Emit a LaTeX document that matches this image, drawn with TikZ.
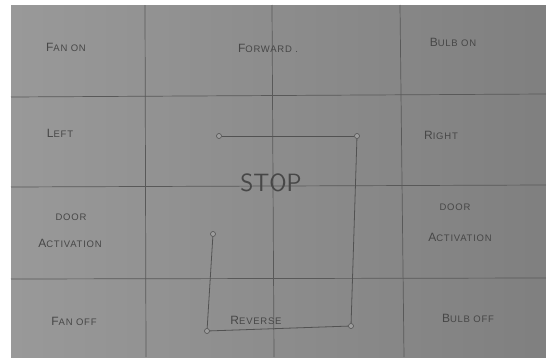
\documentclass[tikz,border=0pt]{standalone}
\usepackage{fontspec}
\setmainfont{Liberation Sans}
\newcommand{\hwtext}[2]{{\fontsize{12}{13}\selectfont\addfontfeatures{LetterSpace=6}#1}{\fontsize{9.5}{11}\selectfont\addfontfeatures{LetterSpace=8}#2}}
\newcommand{\hwsmall}[1]{{\fontsize{9.5}{11}\selectfont\addfontfeatures{LetterSpace=8}#1}}
\begin{document}
\begin{tikzpicture}[x=1pt,y=-1pt,
  gridline/.style={draw=black!65,line width=0.7pt},
  wire/.style={draw=black!68,line width=0.8pt},
  term/.style={circle,draw=black!68,fill=black!38,line width=0.6pt,inner sep=0pt,minimum size=5pt},
  lbl/.style={text=black!72,inner sep=0pt,anchor=center},
  big/.style={lbl,font=\fontsize{25}{27}\selectfont\sffamily}]
\useasboundingbox (0,0) rectangle (546,359);
\fill[white] (0,0) rectangle (546,359);
\shade[left color=black!40,right color=black!50] (11,5) rectangle (546,357);
% grid
\draw[gridline] (145,5) -- (146,357);
\draw[gridline] (272,5) -- (274,357);
\draw[gridline] (400,5) -- (404,357);
\draw[gridline] (11,97) -- (546,94);
\draw[gridline] (11,187) -- (546,185);
\draw[gridline] (11,279) -- (546,278);
% labels
\node[lbl] (fanon) at (66,47) {\hwtext{F}{AN ON}};
\node[lbl] (fwd) at (268,48) {\hwtext{F}{ORWARD .}};
\node[lbl] (bulbon) at (453,42) {\hwtext{B}{ULB ON}};
\node[lbl] (left) at (60,133) {\hwtext{L}{EFT}};
\node[lbl] (right) at (441,135) {\hwtext{R}{IGHT}};
\node[big] (stop) at (271,183) {STOP};
\node[lbl] (doorl) at (71,217) {\hwsmall{DOOR}};
\node[lbl] (actl) at (70,243) {\hwtext{A}{CTIVATION}};
\node[lbl] (doorr) at (455,207) {\hwsmall{DOOR}};
\node[lbl] (actr) at (460,237) {\hwtext{A}{CTIVATION}};
\node[lbl] (fanoff) at (74,321) {\hwtext{F}{AN OFF}};
\node[lbl] (rev) at (256,320) {\hwtext{R}{EVERSE}};
\node[lbl] (bulboff) at (468,318) {\hwtext{B}{ULB OFF}};
% terminals
\node[term] (t1) at (219,136) {};
\node[term] (t2) at (357,136) {};
\node[term] (t3) at (351,326) {};
\node[term] (t4) at (207,331) {};
\node[term] (t5) at (213,234) {};
% wires
\draw[wire] (t1) -- (t2);
\draw[wire] (t2) -- (t3);
\draw[wire] (t3) -- (t4);
\draw[wire] (t4) -- (t5);
\end{tikzpicture}
\end{document}
